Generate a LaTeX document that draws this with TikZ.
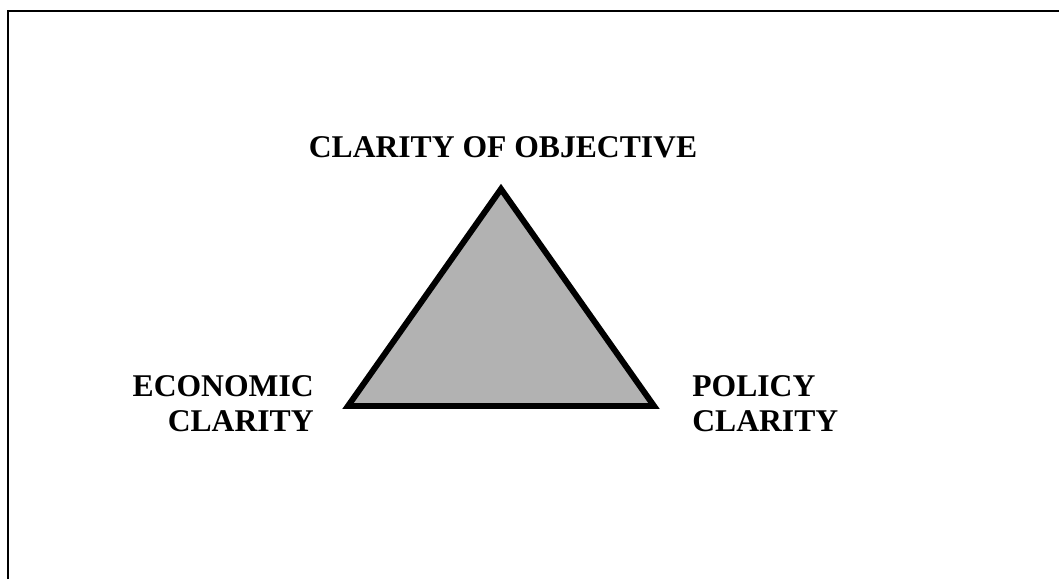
\documentclass[tikz,border=0pt]{standalone}
\usepackage{fontspec}
\setmainfont{Liberation Serif}
\usepackage{tikz}
\usetikzlibrary{positioning}
\tikzset{
  triface/.style={
    draw=black,
    fill=black!30,
    line width=3.4pt,
    line join=miter
  },
  frameline/.style={
    draw=black,
    line width=1.7pt
  },
  clabel/.style={
    font=\fontsize{18}{20}\selectfont\bfseries,
    inner sep=0pt
  }
}

\begin{document}
\begin{tikzpicture}[x=0.02cm, y=-0.02cm]
  %\draw[help lines, step=50] (0,0) grid (1059,579);
  \useasboundingbox (0,0) rectangle (1059,579);

  % frame (top and left edges only)
  \draw[frameline] (8,579) -- (8,11) -- (1059,11);

  % corners of the triangle
  \coordinate (top) at (501,189);
  \coordinate (left) at (348,406);
  \coordinate (right) at (654,406);
  \draw[triface] (top) -- (left) -- (right) -- cycle;

  % labels
  \node[clabel, anchor=base] (objective) at (503,157) {CLARITY OF OBJECTIVE};
  \node[clabel, anchor=north east, align=right] (economic) at (314,375) {ECONOMIC\\CLARITY};
  \node[clabel, anchor=north west, align=left] (policy) at (692,375) {POLICY\\CLARITY};

\end{tikzpicture}
\end{document}
